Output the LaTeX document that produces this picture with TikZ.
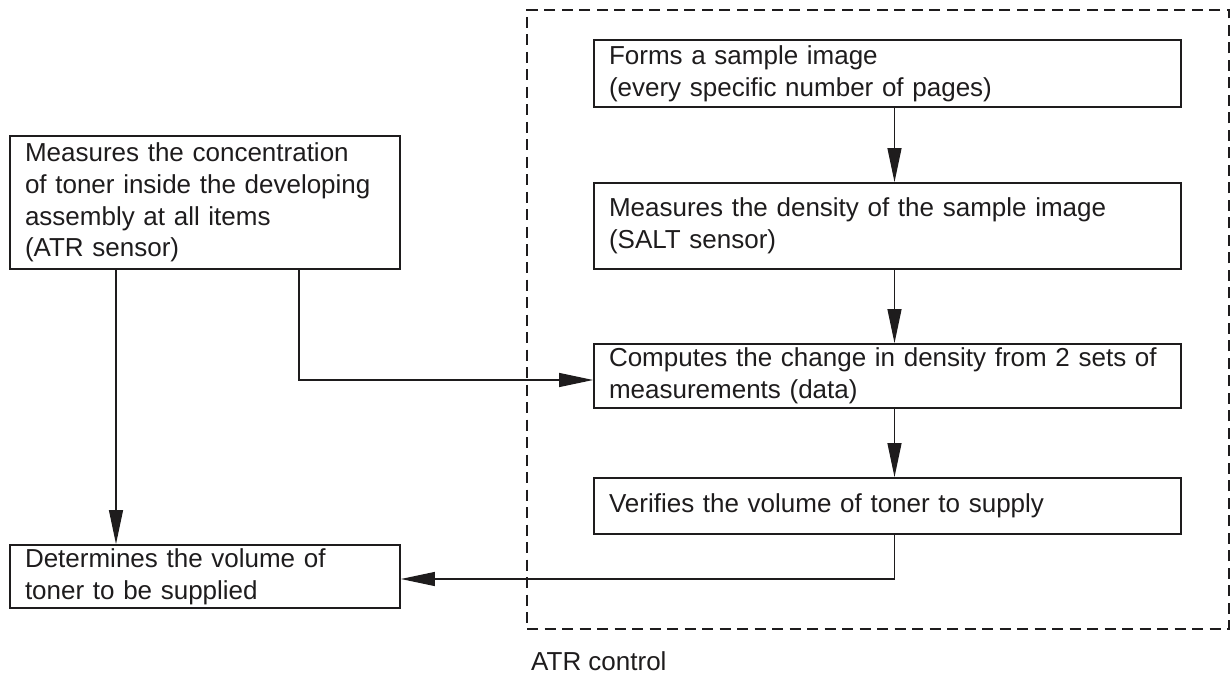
\documentclass[tikz,border=0pt]{standalone}
\usepackage{fontspec}
\setmainfont{Liberation Sans}
\usetikzlibrary{arrows.meta}
\definecolor{ink}{RGB}{30,28,29}
\begin{document}
\begin{tikzpicture}[x=1pt,y=-1pt,
  box/.style={draw=ink, line width=1.8pt, rectangle, inner xsep=15pt, inner ysep=0pt,
    align=left, text=ink, font=\fontsize{26}{31.7}\selectfont},
  conn/.style={draw=ink, line width=1.2pt},
  arr/.style={conn, -{Triangle[length=34pt,width=14pt]}},
  frame/.style={draw=ink, line width=2.6pt, dash pattern=on 11pt off 6.5pt}]
\useasboundingbox (0,0) rectangle (1231,676);
% dashed group frame
\node[frame, minimum width=702pt, minimum height=619pt, inner sep=0pt] (grp) at (878,319.5) {};
% left column
\node[box, minimum width=390pt, minimum height=133pt, text width=360pt] (atr) at (205,202.5)
  {Measures the concentration\\of toner inside the developing\\assembly at all items\\(ATR sensor)};
\node[box, minimum width=390pt, minimum height=63pt, text width=360pt] (det) at (205,576.5)
  {Determines the volume of\\toner to be supplied};
% right column
\node[box, minimum width=587pt, minimum height=67pt, text width=557pt] (b1) at (887.5,73.5)
  {Forms a sample image\\(every specific number of pages)};
\node[box, minimum width=587pt, minimum height=86pt, text width=557pt] (b2) at (887.5,226)
  {Measures the density of the sample image\\(SALT sensor)};
\node[box, minimum width=587pt, minimum height=64pt, text width=557pt] (b3) at (887.5,376)
  {Computes the change in density from 2 sets of\\measurements (data)};
\node[box, minimum width=587pt, minimum height=56pt, text width=557pt] (b4) at (887.5,506)
  {Verifies the volume of toner to supply};
% label
\node[anchor=base west, inner sep=0pt, text=ink, font=\fontsize{26}{31.7}\selectfont] (lbl) at (531,670) {ATR control};
% connectors
\draw[arr] ([xshift=7pt]b1.south) -- ([xshift=7pt]b2.north);
\draw[arr] ([xshift=7pt]b2.south) -- ([xshift=7pt]b3.north);
\draw[arr] ([xshift=7pt]b3.south) -- ([xshift=7pt]b4.north);
\draw[arr] ([xshift=-89pt]atr.south) -- ([xshift=-89pt]det.north);
\draw[arr] ([xshift=94pt]atr.south) |- ([yshift=-4pt]b3.west);
\draw[arr] ([xshift=7pt]b4.south) |- ([yshift=-2.5pt]det.east);
\end{tikzpicture}
\end{document}
